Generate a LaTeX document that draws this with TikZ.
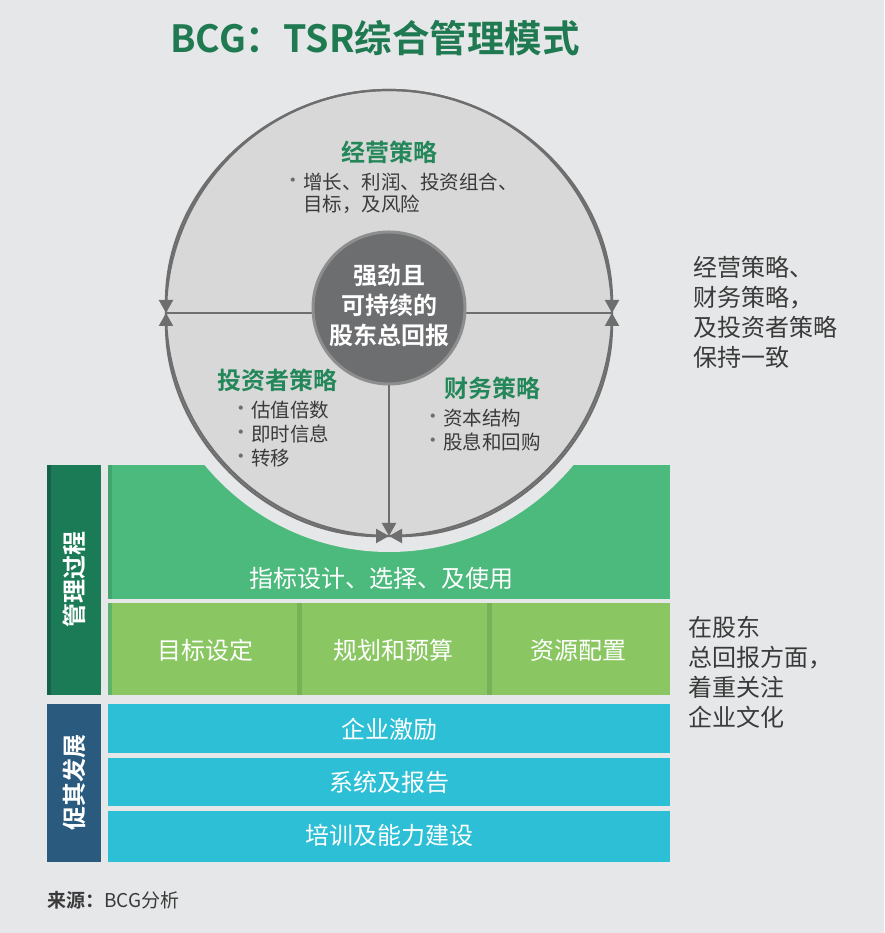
\documentclass[tikz,border=0pt]{standalone}
\usepackage{fontspec}
\setmainfont{Noto Sans CJK SC}[BoldFont={Noto Sans CJK SC Bold}]
\usetikzlibrary{arrows.meta}
\definecolor{bg}{HTML}{E6E7E8}
\definecolor{circfill}{HTML}{D9D8D8}
\definecolor{cline}{HTML}{6E6E6E}
\definecolor{innerfill}{HTML}{6D6E70}
\definecolor{innerring}{HTML}{8E8E8E}
\definecolor{titlegreen}{HTML}{1F7A52}
\definecolor{headgreen}{HTML}{23875A}
\definecolor{txt}{HTML}{3A3A3A}
\definecolor{dgreen}{HTML}{1B7B57}
\definecolor{dgreenstrip}{HTML}{16614A}
\definecolor{mgreen}{HTML}{4DBA7D}
\definecolor{mgreenstrip}{HTML}{41A56D}
\definecolor{lgreen}{HTML}{8AC763}
\definecolor{lgreendiv}{HTML}{77B158}
\definecolor{cyanrow}{HTML}{2DBFD6}
\definecolor{dblue}{HTML}{2A5A7E}
\tikzset{
  arr/.style={draw=cline, line width=2.2pt, -{Triangle[length=13pt,width=14pt]}},
  arrboth/.style={draw=cline, line width=2.2pt, {Triangle[length=13pt,width=14pt]}-{Triangle[length=13pt,width=14pt]}},
  head/.style={font=\fontsize{24}{28}\selectfont\bfseries, text=headgreen, inner sep=0pt},
  body/.style={font=\fontsize{19.5}{22}\selectfont, text=txt, inner sep=0pt, anchor=west},
  dot/.style={font=\fontsize{19.5}{22}\selectfont, text=cline, inner sep=0pt},
  side/.style={font=\fontsize{24}{30}\selectfont, text=txt, inner sep=0pt, anchor=north west, align=left},
  boxtxt/.style={font=\fontsize{24}{27}\selectfont, text=white, inner sep=0pt},
  vlabel/.style={font=\fontsize{24}{26}\selectfont\bfseries, text=white, inner sep=0pt, rotate=90},
}
\begin{document}
\begin{tikzpicture}[x=1pt,y=1pt]
\fill[bg] (0,0) rectangle (884,933);
\useasboundingbox (0,0) rectangle (884,933);
% left bars
\fill[dgreen] (47,238) rectangle (101,468);
\fill[dgreenstrip] (47,238) rectangle (51,468);
\fill[dblue] (47,71) rectangle (101,229);
% green row
\fill[mgreen] (108,334) rectangle (670,468);
\fill[mgreenstrip] (108,334) rectangle (112,468);
% light green row
\fill[lgreen] (108,238) rectangle (670,330);
\fill[mgreenstrip!60!lgreen] (108,238) rectangle (112,330);
\fill[lgreendiv] (297,238) rectangle (302,330);
\fill[lgreendiv] (487,238) rectangle (492,330);
% cyan rows
\fill[cyanrow] (108,180) rectangle (670,229);
\fill[cyanrow] (108,127) rectangle (670,175);
\fill[cyanrow] (108,71) rectangle (670,122);
% halo and circle
\fill[bg] (389,620) circle[radius=239];
\filldraw[fill=circfill, draw=cline, line width=2.2pt] (389,620) circle[radius=223];
\coordinate (T) at (389,843);
\coordinate (L) at (166,620);
\coordinate (R) at (612,620);
\coordinate (B) at (389,397);
\draw[cline, line width=2.2pt] (L) -- (R);
\node[circle, fill=innerfill, draw=innerring, line width=3pt, minimum size=152pt, inner sep=0pt] (inner) at (389,625) {};
\draw[arr] (T) arc[start angle=90, end angle=180, radius=223];
\draw[arr] (T) arc[start angle=90, end angle=0, radius=223];
\draw[arrboth] (L) arc[start angle=180, end angle=270, radius=223];
\draw[arrboth] (R) arc[start angle=0, end angle=-90, radius=223];
\draw[arr] (inner.south) -- (B);
% center text
\node[font=\fontsize{24}{30}\selectfont\bfseries, text=white, align=center, inner sep=0pt] (ctext) at (389,628) {强劲且\\可持续的\\股东总回报};
% top section
\node[head] (h1) at (389,781) {经营策略};
\node[dot] (d1) at (293,750) {·};
\node[body] (b1a) at (303,751) {增长、利润、投资组合、};
\node[body] (b1b) at (303,729) {目标，及风险};
% bottom left
\node[head] (h2) at (277,553) {投资者策略};
\node[dot] (d2a) at (241,522) {·};
\node[body] (b2a) at (251,523) {估值倍数};
\node[dot] (d2b) at (241,498) {·};
\node[body] (b2b) at (251,499) {即时信息};
\node[dot] (d2c) at (241,474) {·};
\node[body] (b2c) at (251,475) {转移};
% bottom right
\node[head] (h3) at (492,545) {财务策略};
\node[dot] (d3a) at (433,514) {·};
\node[body] (b3a) at (443,515) {资本结构};
\node[dot] (d3b) at (433,490) {·};
\node[body] (b3b) at (443,491) {股息和回购};
% box texts
\node[boxtxt] (m1) at (381,355) {指标设计、选择、及使用};
\node[boxtxt] (m2) at (205,283) {目标设定};
\node[boxtxt] (m3) at (393,283) {规划和预算};
\node[boxtxt] (m4) at (578,283) {资源配置};
\node[boxtxt] (c1) at (389,204) {企业激励};
\node[boxtxt] (c2) at (389,151) {系统及报告};
\node[boxtxt] (c3) at (389,98) {培训及能力建设};
\node[vlabel] (v1) at (74,353) {管理过程};
\node[vlabel] (v2) at (74,150) {促其发展};
% side texts
\node[side] (s1) at (693,677) {经营策略、\\财务策略，\\及投资者策略\\保持一致};
\node[side] (s2) at (688,317) {在股东\\总回报方面，\\着重关注\\企业文化};
% title and source
\node[font=\fontsize{37.5}{40}\selectfont\bfseries, text=titlegreen, inner sep=0pt] (title) at (375,895) {BCG：TSR综合管理模式};
\node[font=\fontsize{19}{22}\selectfont, text=txt, inner sep=0pt, anchor=west] (src) at (47,33) {\textbf{来源：}BCG分析};
\end{tikzpicture}
\end{document}
